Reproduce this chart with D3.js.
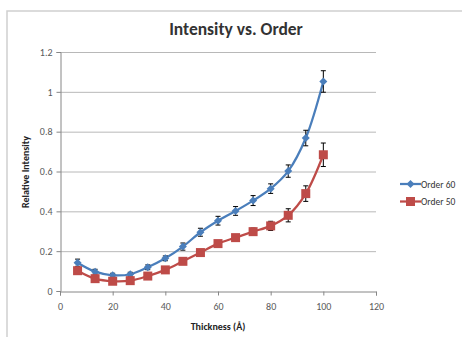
<!DOCTYPE html>
<html>
<head>
<meta charset="utf-8">
<script src="https://cdn.jsdelivr.net/npm/d3@7"></script>
<style>
  body { margin: 0; background: #fff; }
  svg { display: block; font-family: Carlito, "Open Sans", "Liberation Sans", sans-serif; }
</style>
</head>
<body>
<svg id="chart" width="462" height="337"></svg>
<script>
const thickness = [6.67, 13.33, 20, 26.67, 33.33, 40, 46.67, 53.33, 60, 66.67, 73.33, 80, 86.67, 93.33, 100];
const order60 = [0.142, 0.097, 0.079, 0.084, 0.119, 0.164, 0.223, 0.295, 0.353, 0.402, 0.454, 0.514, 0.602, 0.768, 1.052];
const order60Err = [0.018, 0.012, 0.01, 0.01, 0.012, 0.012, 0.018, 0.02, 0.022, 0.022, 0.025, 0.024, 0.031, 0.039, 0.054];
const order50 = [0.102, 0.062, 0.049, 0.052, 0.075, 0.106, 0.149, 0.193, 0.238, 0.268, 0.298, 0.327, 0.38, 0.489, 0.684];
const order50Err = [0.01, 0.008, 0.006, 0.006, 0.008, 0.008, 0.01, 0.012, 0.012, 0.014, 0.018, 0.023, 0.033, 0.039, 0.059];
const xTicks = [0, 20, 40, 60, 80, 100, 120];
const yTicks = [0, 0.2, 0.4, 0.6, 0.8, 1, 1.2];
const seriesNames = ['Order 60', 'Order 50'];

const series = [
  { name: seriesNames[0], values: order60, err: order60Err, color: '#4a7ebb', marker: 'diamond' },
  { name: seriesNames[1], values: order50, err: order50Err, color: '#be4b48', marker: 'square' }
];

const svg = d3.select('#chart');

// outer chart border
svg.append('path')
  .attr('d', 'M7,340 V11 H470')
  .attr('fill', 'none')
  .attr('stroke', '#d0d0d0')
  .attr('stroke-width', 1.5);

const x = d3.scaleLinear().domain([0, 120]).range([60, 376]);
const y = d3.scaleLinear().domain([0, 1.2]).range([291, 52]);

// gridlines
svg.append('g')
  .selectAll('line')
  .data(yTicks.slice(1))
  .enter()
  .append('line')
  .attr('x1', x(0))
  .attr('x2', x(120))
  .attr('y1', d => y(d) + 0.5)
  .attr('y2', d => y(d) + 0.5)
  .attr('stroke', '#b8b8b8')
  .attr('stroke-width', 1);

const xAxis = svg.append('g')
  .attr('transform', `translate(0,${y(0) + 0.5})`)
  .call(d3.axisBottom(x).tickValues(xTicks).tickSize(4).tickFormat(d3.format('')));

const yAxis = svg.append('g')
  .attr('transform', `translate(${x(0) + 0.5},0)`)
  .call(d3.axisLeft(y).tickValues(yTicks).tickSize(4).tickFormat(d => d3.format('')(d)));

[xAxis, yAxis].forEach(ax => {
  ax.select('.domain').attr('stroke', '#868686');
  ax.selectAll('.tick line').attr('stroke', '#868686');
  ax.selectAll('.tick text')
    .attr('fill', '#595959')
    .style('font-size', '10px')
    .style('font-family', 'Carlito, "Open Sans", "Liberation Sans", sans-serif');
});
xAxis.selectAll('.tick text').attr('dy', '0.71em').attr('y', 11);
yAxis.selectAll('.tick text').attr('x', -8);

// title and axis labels
svg.append('text')
  .attr('x', 236)
  .attr('y', 35)
  .attr('text-anchor', 'middle')
  .attr('fill', '#333')
  .style('font-size', '17.5px')
  .style('font-weight', 'bold')
  .text('Intensity vs. Order');

svg.append('text')
  .attr('x', 218)
  .attr('y', 330)
  .attr('text-anchor', 'middle')
  .attr('fill', '#222')
  .style('font-size', '10px')
  .style('font-weight', 'bold')
  .text('Thickness (Å)');

svg.append('text')
  .attr('transform', 'translate(29,172) rotate(-90)')
  .attr('text-anchor', 'middle')
  .attr('fill', '#222')
  .style('font-size', '10px')
  .style('font-weight', 'bold')
  .text('Relative Intensity');

const line = d3.line()
  .x(d => x(d[0]))
  .y(d => y(d[1]))
  .curve(d3.curveCatmullRom.alpha(0.5));

function drawMarker (sel, type, color) {
  if (type === 'diamond') {
    sel.append('path')
      .attr('d', 'M0,-4 L4,0 L0,4 L-4,0 Z')
      .attr('fill', color);
  } else {
    sel.append('rect')
      .attr('x', -4.5)
      .attr('y', -4.5)
      .attr('width', 9)
      .attr('height', 9)
      .attr('fill', color);
  }
}

series.forEach(s => {
  const pts = thickness.map((t, i) => [t, s.values[i], s.err[i]]);
  const g = svg.append('g');

  g.append('path')
    .attr('d', line(pts))
    .attr('fill', 'none')
    .attr('stroke', s.color)
    .attr('stroke-width', 2.25);

  // error bars (under the markers)
  const eb = g.selectAll('.eb')
    .data(pts)
    .enter()
    .append('g')
    .attr('stroke', '#000')
    .attr('stroke-width', 1);
  eb.append('line')
    .attr('x1', d => x(d[0]))
    .attr('x2', d => x(d[0]))
    .attr('y1', d => y(d[1] - d[2]))
    .attr('y2', d => y(d[1] + d[2]));
  eb.append('line')
    .attr('x1', d => x(d[0]) - 2.5)
    .attr('x2', d => x(d[0]) + 2.5)
    .attr('y1', d => y(d[1] + d[2]))
    .attr('y2', d => y(d[1] + d[2]));
  eb.append('line')
    .attr('x1', d => x(d[0]) - 2.5)
    .attr('x2', d => x(d[0]) + 2.5)
    .attr('y1', d => y(d[1] - d[2]))
    .attr('y2', d => y(d[1] - d[2]));

  const marks = g.selectAll('.mk')
    .data(pts)
    .enter()
    .append('g')
    .attr('transform', d => `translate(${x(d[0])},${y(d[1])})`);
  drawMarker(marks, s.marker, s.color);
});

// legend
const legend = svg.append('g')
  .selectAll('g')
  .data(series)
  .enter()
  .append('g')
  .attr('transform', (d, i) => `translate(400,${184 + i * 17.5})`);

legend.append('line')
  .attr('x1', 0)
  .attr('x2', 21)
  .attr('stroke', d => d.color)
  .attr('stroke-width', 2.25);

legend.each(function (d) {
  const m = d3.select(this).append('g').attr('transform', 'translate(10.5,0)');
  drawMarker(m, d.marker, d.color);
});

legend.append('text')
  .attr('x', 21)
  .attr('y', 3.5)
  .attr('fill', '#333')
  .style('font-size', '9.5px')
  .text(d => d.name);
</script>
</body>
</html>
